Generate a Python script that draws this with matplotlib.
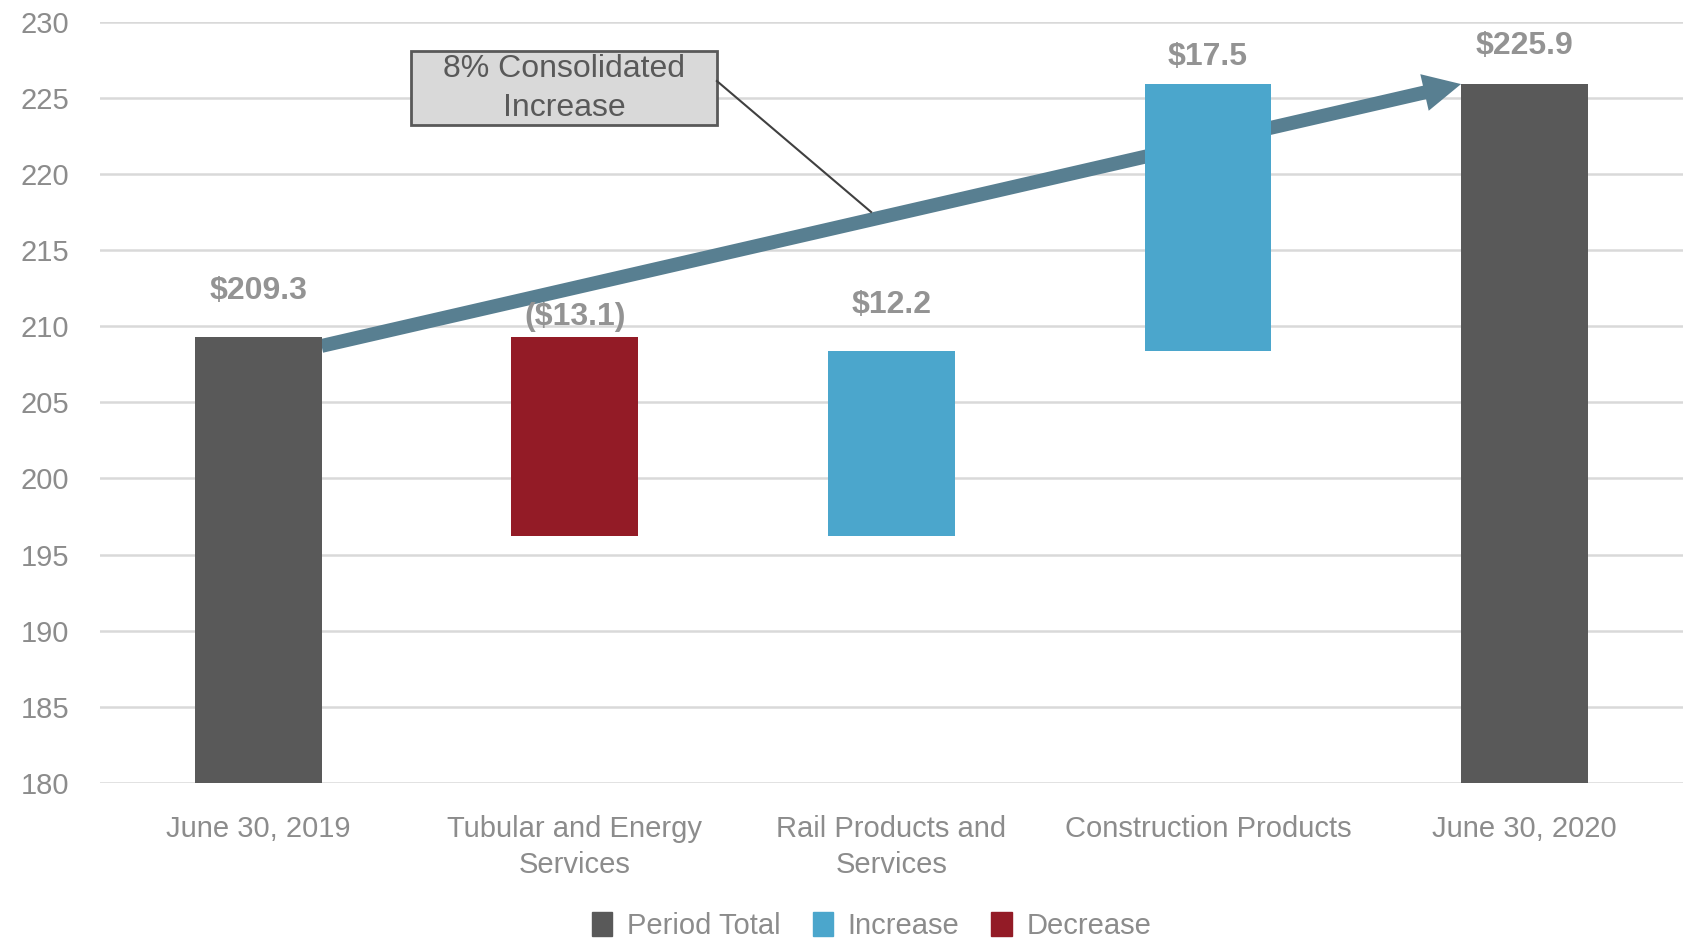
import matplotlib.pyplot as plt
from matplotlib.patches import Rectangle, Patch

plt.rcParams['font.family'] = ['Liberation Sans Narrow', 'Liberation Sans', 'DejaVu Sans']

# Waterfall data ($M)
categories = ['June 30, 2019', 'Tubular and Energy\nServices', 'Rail Products and\nServices',
              'Construction Products', 'June 30, 2020']
start_total = 209.3
changes = [-13.1, 12.2, 17.5]
end_total = 225.9
y_ticks = [180, 185, 190, 195, 200, 205, 210, 215, 220, 225, 230]

c_total = '#595959'
c_up = '#4ba6cc'
c_down = '#931b26'
c_text = '#8c8c8c'

fig = plt.figure(figsize=(16.86, 9.41), dpi=100)
ax = fig.add_axes([0.0593, 0.168, 0.9387, 0.809])

# bars
bottoms, heights, colors, labels = [0], [start_total], [c_total], [f'${start_total:.1f}']
running = start_total
for c in changes:
    bottoms.append(running if c > 0 else running + c)
    heights.append(abs(c))
    colors.append(c_up if c > 0 else c_down)
    labels.append(f'${c:.1f}' if c > 0 else f'(${-c:.1f})')
    running += c
bottoms.append(0)
heights.append(end_total)
colors.append(c_total)
labels.append(f'${end_total:.1f}')

x = range(len(categories))
ax.bar(x, heights, bottom=bottoms, width=0.4, color=colors, zorder=3)

# value labels above each bar
label_pad = [46, 20, 46, 27, 38]
for i in x:
    ax.annotate(labels[i], (i, bottoms[i] + heights[i]), xytext=(0, label_pad[i]),
                textcoords='offset pixels', ha='center', va='center',
                fontsize=23, fontweight='bold', color='#939393', zorder=5)

# trend arrow from first total to last total
ax.annotate('', xy=(3.8, end_total), xytext=(0.2, start_total - 0.6),
            arrowprops=dict(arrowstyle='simple,head_length=2.7,head_width=2.7,tail_width=1.0',
                            lw=0, color='#587f91', shrinkA=0, shrinkB=0, mutation_scale=10),
            zorder=2)

# callout box
ax.add_patch(Rectangle((0.483, 223.2), 0.966, 4.9, facecolor='#d9d9d9',
                       edgecolor='#595959', lw=2, zorder=4))
ax.text(0.966, 225.6, '8% Consolidated\nIncrease', ha='center', va='center',
        fontsize=23, color='#595959', linespacing=1.38, zorder=5)
ax.plot([1.449, 1.936], [226.1, 217.5], color='#404040', lw=1.5, zorder=4)

ax.set_xlim(-0.5, 4.5)
ax.set_ylim(180, 230)
ax.set_yticks(y_ticks)
ax.set_xticks(list(x))
ax.set_xticklabels(categories, linespacing=1.38)
ax.tick_params(axis='both', length=0, labelsize=21, labelcolor=c_text)
ax.tick_params(axis='x', pad=23)
ax.tick_params(axis='y', pad=22)
ax.grid(axis='y', color='#d9d9d9', lw=1.8, zorder=0)
ax.set_axisbelow(True)
for s in ax.spines.values():
    s.set_visible(False)

handles = [Patch(color=c_total), Patch(color=c_up), Patch(color=c_down)]
fig.legend(handles, ['Period Total', 'Increase', 'Decrease'], loc='center',
           bbox_to_anchor=(0.517, 0.016), ncol=3, frameon=False, fontsize=21,
           handlelength=0.7, handleheight=0.9, handletextpad=0.5, columnspacing=1.1,
           labelcolor=c_text)

fig.savefig('out.png', dpi=100)
